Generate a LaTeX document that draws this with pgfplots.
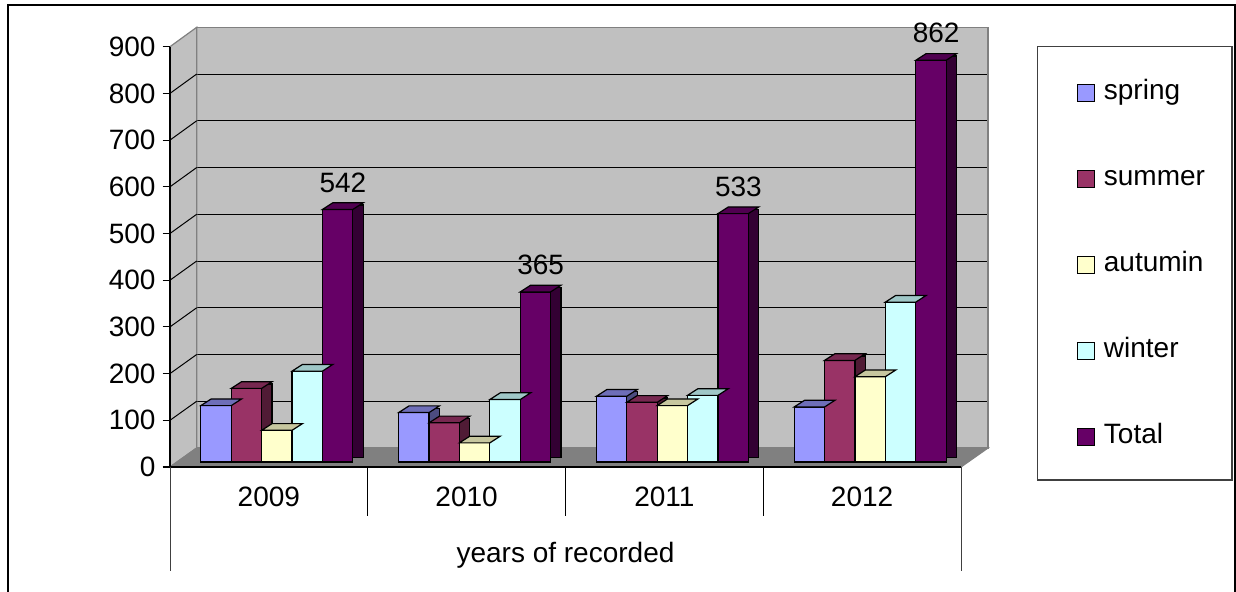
\documentclass[border=0pt]{standalone}
\usepackage{pgfplots}
\pgfplotsset{compat=1.18}
\usepackage{pgfplotstable}
\usepackage{fontspec}
\setmainfont{Liberation Sans}
\definecolor{wallgray}{HTML}{C0C0C0}
\definecolor{floorgray}{HTML}{808080}
\definecolor{cspring}{HTML}{9999FF}
\definecolor{csummer}{HTML}{993366}
\definecolor{cautumn}{HTML}{FFFFCC}
\definecolor{cwinter}{HTML}{CCFFFF}
\definecolor{ctotal}{HTML}{660066}
\colorlet{cspringT}{cspring!72!black}
\colorlet{csummerT}{csummer!78!black}
\colorlet{cautumnT}{cautumn!78!black}
\colorlet{cwinterT}{cwinter!78!black}
\colorlet{ctotalT}{ctotal!78!black}
\colorlet{cspringS}{cspring!50!black}
\colorlet{csummerS}{csummer!52!black}
\colorlet{cautumnS}{cautumn!60!black}
\colorlet{cwinterS}{cwinter!60!black}
\colorlet{ctotalS}{ctotal!50!black}
\newcommand\lbl{\fontsize{14}{16.5}\selectfont}
\pgfdeclareplotmark{topface}{%
  \pgfpathmoveto{\pgfpoint{-7.6pt}{0pt}}%
  \pgfpathlineto{\pgfpoint{7.6pt}{0pt}}%
  \pgfpathlineto{\pgfpoint{12.8pt}{3.35pt}}%
  \pgfpathlineto{\pgfpoint{-2.4pt}{3.35pt}}%
  \pgfpathclose
  \pgfusepathqfillstroke}
\pgfplotsset{
  sqlegend/.style={legend image code/.code={\draw[##1, draw=black, line width=0.5pt] (0pt,-4.15pt) rectangle (8.3pt,4.15pt);}},
  /pgf/number format/assume math mode=true,
}
\pgfplotstableread{
year spring summer autumn winter total
0 121 158 68 195 542
1 106 84 41 134 365
2 141 128 121 143 533
3 118 218 183 343 862
}\datatable
% one series: side face, front face, top face
\newcommand\series[3]{%
  \addplot[ybar, bar width=15.2pt, bar shift=#3, fill=#2S, draw=black, line width=0.6pt,
    xshift=5.2pt, yshift=2.2pt, forget plot] table[x=year,y=#1]{\datatable};
  \addplot[ybar, bar width=15.2pt, bar shift=#3, fill=#2, draw=black, line width=0.6pt, forget plot]
    table[x=year,y=#1]{\datatable};
  \addplot[only marks, mark=topface, xshift=#3, forget plot,
    mark options={fill=#2T, draw=black, line width=0.6pt}] table[x=year,y=#1]{\datatable};
}
\begin{document}
\begin{tikzpicture}
\useasboundingbox (0,0) rectangle (618pt,296pt);
% back wall
\begin{axis}[at={(98.35pt,72pt)}, anchor=south west, width=395.65pt, height=210.35pt,
  scale only axis, xmin=0, xmax=1, ymin=0, ymax=900,
  ytick={0,100,...,900}, xtick=\empty, yticklabels={}, ytick style={draw=none},
  ymajorgrids, grid style={black, line width=0.5pt},
  axis background/.style={fill=wallgray},
  axis line style={floorgray, line width=0.6pt}]
\addplot[draw=none, forget plot] coordinates {(0,0)};
\end{axis}
% side wall
\filldraw[fill=wallgray, draw=floorgray, line width=0.6pt]
  (85pt,62.5pt) -- (98.35pt,72pt) -- (98.35pt,282.35pt) -- (85pt,272.65pt) -- cycle;
\foreach \k in {1,...,8}
  \draw[black, line width=0.5pt] (85pt,62.5pt+\k*23.35pt) -- (98.35pt,72pt+\k*23.372pt);
% floor
\filldraw[fill=floorgray, draw=floorgray, line width=0.6pt]
  (85pt,62.5pt) -- (480.5pt,62.5pt) -- (494pt,72pt) -- (98.35pt,72pt) -- cycle;
% front axis with ticks
\begin{axis}[at={(85pt,62.5pt)}, anchor=south west, width=395.5pt, height=210.15pt,
  scale only axis, xmin=-0.5, xmax=3.5, ymin=0, ymax=900,
  axis x line*=bottom, axis y line*=left,
  axis line style={black, line width=0.6pt, -},
  ytick={0,100,...,900}, xtick={0,1,2,3}, xticklabels={2009,2010,2011,2012},
  tick align=outside, major tick length=3.7pt,
  xtick style={draw=none}, ytick style={black, line width=0.6pt},
  ticklabel style={font=\lbl},
  xticklabel style={anchor=center, yshift=-11pt},
  xlabel={years of recorded},
  xlabel style={font=\lbl, at={(axis description cs:0.5,0)}, anchor=center, yshift=-44pt}]
\addplot[draw=none, forget plot] coordinates {(0,0)};
\end{axis}
% bars
\begin{axis}[at={(85pt,65pt)}, anchor=south west, width=395.5pt, height=209.7pt,
  scale only axis, xmin=-0.5, xmax=3.5, ymin=0, ymax=900, axis lines=none, clip=false,
  legend style={at={(1.1463,0.9101)}, anchor=north west, draw=none, fill=none,
    inner sep=0pt, column sep=4.6pt, row sep=31pt,
    nodes={inner sep=0pt, text height=9.5pt, text depth=2.5pt, font=\lbl}},
  legend cell align=left]
\series{spring}{cspring}{-26.4pt}
\series{summer}{csummer}{-11.2pt}
\series{autumn}{cautumn}{4pt}
\series{winter}{cwinter}{19.2pt}
\addplot[ybar, bar width=15.2pt, bar shift=34.4pt, fill=ctotalS, draw=black, line width=0.6pt,
  xshift=5.2pt, yshift=2.2pt, forget plot] table[x=year,y=total]{\datatable};
\addplot[ybar, bar width=15.2pt, bar shift=34.4pt, fill=ctotal, draw=black, line width=0.6pt,
  forget plot, nodes near coords,
  every node near coord/.append style={font=\lbl, anchor=base, inner sep=0pt, black,
    xshift=37pt, yshift=8.7pt}]
  table[x=year,y=total]{\datatable};
\addplot[only marks, mark=topface, xshift=34.4pt, forget plot,
  mark options={fill=ctotalT, draw=black, line width=0.6pt}] table[x=year,y=total]{\datatable};
\addlegendimage{sqlegend, fill=cspring}\addlegendentry{spring}
\addlegendimage{sqlegend, fill=csummer}\addlegendentry{summer}
\addlegendimage{sqlegend, fill=cautumn}\addlegendentry{autumin}
\addlegendimage{sqlegend, fill=cwinter}\addlegendentry{winter}
\addlegendimage{sqlegend, fill=ctotal}\addlegendentry{Total}
\end{axis}
% category separators
\draw[black!75, line width=0.5pt] (85pt,62.5pt) -- (85pt,10.5pt);
\draw[black!75, line width=0.5pt] (480.5pt,62.5pt) -- (480.5pt,10.5pt);
\foreach \xx in {183.875pt,282.75pt,381.625pt}
  \draw[black, line width=0.5pt] (\xx,62.5pt) -- (\xx,38.15pt);
% legend box
\draw[black!75, line width=0.6pt] (518.85pt,56pt) rectangle (616pt,272.65pt);
% outer border
\draw[black, line width=1pt] (3.75pt,-3pt) rectangle (617.5pt,293.5pt);
\end{tikzpicture}
\end{document}
